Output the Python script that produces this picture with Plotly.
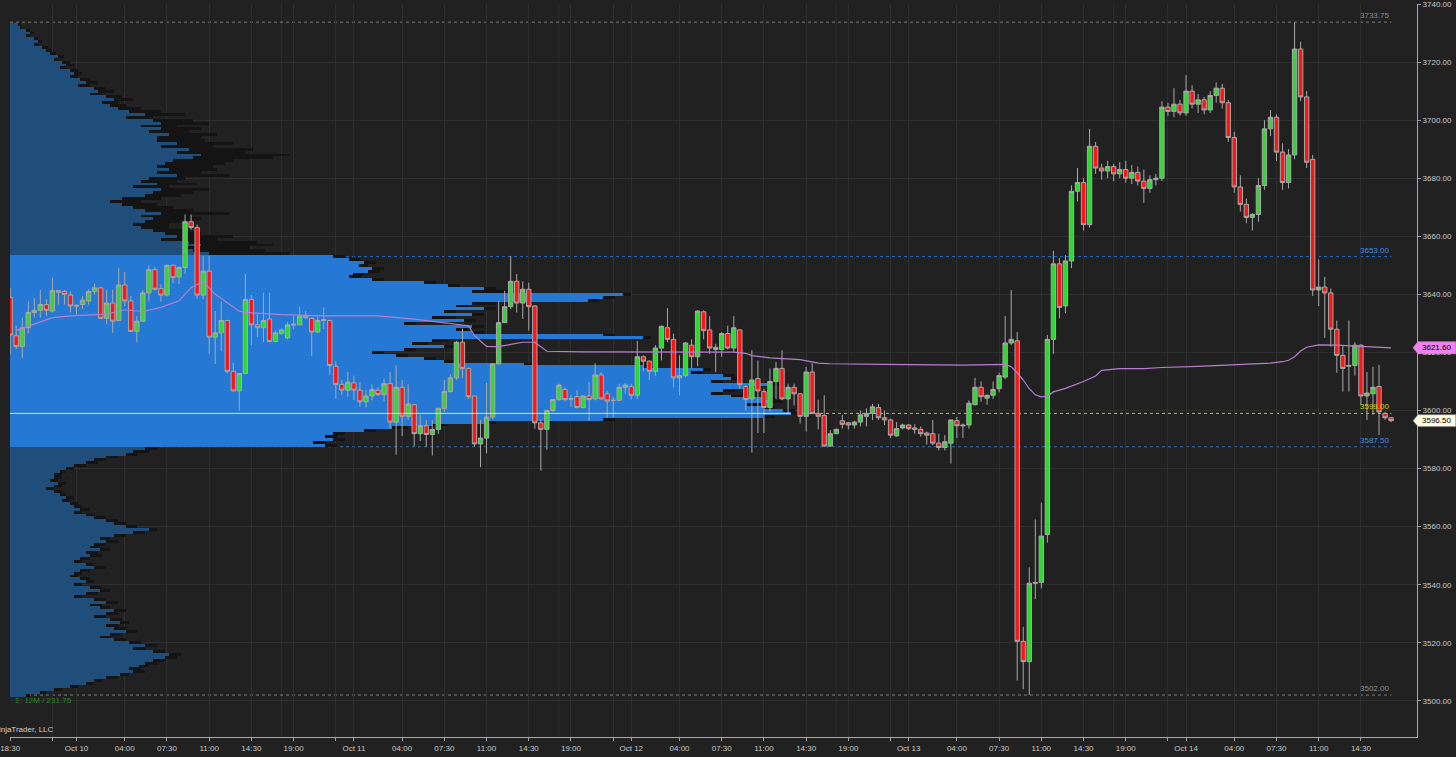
import pandas as pd
import plotly.graph_objects as go

# ---------------- DATA ----------------
# 30-minute ES bars (close times), Oct 9 18:30 -> Oct 14 17:00 (ET), session break 17:00-18:00
bar_times = pd.date_range("2022-10-09 18:30", "2022-10-14 17:00", freq="30min")
bar_times = bar_times[~bar_times.strftime("%H:%M").isin(["17:30", "18:00"])]

open_ = [
    3639.0, 3625.75, 3622.0, 3628.5, 3633.75, 3634.5, 3636.5, 3634.25, 3641.25, 3641.0,
    3639.75, 3636.25, 3636.5, 3637.75, 3641.0, 3642.25, 3631.75, 3637.0, 3631.0, 3643.25,
    3637.75, 3627.25, 3630.75, 3640.5, 3648.5, 3642.0, 3639.75, 3650.0, 3646.0, 3649.25,
    3665.0, 3663.0, 3639.75, 3648.0, 3625.25, 3626.75, 3631.0, 3613.5, 3606.75, 3612.75,
    3638.25, 3629.5, 3628.5, 3631.5, 3623.75, 3626.5, 3625.0, 3629.75, 3629.5, 3632.5,
    3631.75, 3627.0, 3631.0, 3631.0, 3615.25, 3609.0, 3607.0, 3609.5, 3607.0, 3603.0,
    3605.0, 3607.0, 3605.5, 3609.25, 3596.0, 3608.0, 3598.0, 3602.0, 3592.0, 3594.75,
    3591.75, 3593.5, 3600.75, 3606.5, 3611.25, 3623.5, 3614.5, 3605.0, 3588.5, 3590.5,
    3597.75, 3616.0, 3630.25, 3635.75, 3644.5, 3637.0, 3641.75, 3636.0, 3595.75, 3593.5,
    3600.0, 3603.75, 3607.25, 3604.0, 3604.75, 3601.0, 3605.0, 3604.0, 3612.25, 3605.75,
    3603.5, 3603.5, 3608.0, 3608.25, 3605.25, 3618.5, 3617.0, 3613.5, 3621.5, 3628.5,
    3624.5, 3611.25, 3612.0, 3622.5, 3618.5, 3634.0, 3627.75, 3621.75, 3621.0, 3626.5,
    3621.5, 3627.75, 3608.25, 3604.0, 3611.0, 3606.5, 3601.0, 3610.0, 3614.5, 3604.0,
    3608.0, 3605.75, 3598.0, 3613.25, 3599.0, 3598.25, 3587.75, 3592.0, 3596.5, 3595.75,
    3595.0, 3596.0, 3598.0, 3599.0, 3601.0, 3597.5, 3596.75, 3591.25, 3594.0, 3595.0,
    3594.0, 3593.5, 3592.25, 3592.0, 3588.75, 3587.25, 3588.75, 3596.5, 3595.0, 3595.0,
    3602.0, 3608.0, 3604.25, 3605.25, 3607.5, 3611.5, 3623.25, 3624.0, 3520.5, 3513.5,
    3540.5, 3540.75, 3557.25, 3624.5, 3650.5, 3636.0, 3651.5, 3675.5, 3678.5, 3664.0,
    3691.0, 3683.5, 3682.5, 3684.0, 3681.5, 3683.0, 3680.0, 3682.0, 3679.0, 3676.5,
    3679.5, 3680.0, 3704.5, 3703.0, 3705.5, 3702.5, 3710.0, 3705.5, 3707.0, 3703.5,
    3708.5, 3711.0, 3706.0, 3694.0, 3677.0, 3671.0, 3666.5, 3667.5, 3677.5, 3697.0,
    3701.0, 3689.0, 3678.5, 3688.0, 3724.5, 3708.0, 3686.5, 3641.5, 3642.5, 3640.5,
    3628.0, 3619.0, 3615.25, 3615.5, 3622.5, 3605.0, 3605.75, 3608.25, 3599.0, 3597.5,
]
high = [
    3642.25, 3629.25, 3632.0, 3637.5, 3638.75, 3641.5, 3638.25, 3645.75, 3641.5, 3641.5,
    3641.0, 3636.5, 3639.5, 3641.75, 3643.75, 3642.5, 3641.5, 3641.5, 3649.0, 3647.75,
    3639.5, 3632.5, 3641.5, 3650.0, 3649.5, 3643.5, 3650.25, 3650.25, 3649.75, 3667.5,
    3667.5, 3664.0, 3653.25, 3653.25, 3634.25, 3637.5, 3631.25, 3616.5, 3612.75, 3647.0,
    3639.75, 3633.25, 3640.5, 3640.5, 3627.5, 3628.25, 3630.5, 3632.5, 3635.75, 3634.25,
    3632.0, 3632.25, 3635.5, 3631.25, 3617.0, 3610.5, 3613.25, 3612.0, 3609.75, 3607.0,
    3609.0, 3608.0, 3611.0, 3613.25, 3615.5, 3610.5, 3609.0, 3602.25, 3598.5, 3596.75,
    3596.75, 3600.75, 3610.5, 3612.5, 3624.0, 3628.25, 3614.5, 3605.0, 3596.75, 3609.5,
    3616.25, 3637.75, 3641.25, 3653.25, 3647.0, 3644.5, 3644.0, 3636.25, 3596.75, 3600.25,
    3604.0, 3609.25, 3608.0, 3605.25, 3607.0, 3605.25, 3609.75, 3616.25, 3613.25, 3606.75,
    3604.75, 3609.25, 3609.5, 3609.25, 3624.0, 3619.0, 3617.25, 3622.5, 3629.25, 3635.25,
    3626.5, 3619.0, 3623.5, 3624.5, 3634.5, 3634.5, 3632.5, 3623.0, 3627.0, 3629.25,
    3632.5, 3628.0, 3608.75, 3620.75, 3617.25, 3607.5, 3614.5, 3616.75, 3620.75, 3609.25,
    3609.25, 3606.0, 3615.0, 3616.25, 3603.75, 3605.25, 3593.25, 3593.75, 3598.5, 3596.0,
    3596.5, 3600.0, 3600.75, 3602.25, 3602.25, 3600.0, 3597.25, 3596.0, 3595.5, 3595.25,
    3595.25, 3594.5, 3592.75, 3596.75, 3592.0, 3591.5, 3596.75, 3597.75, 3595.5, 3603.5,
    3611.25, 3610.0, 3605.5, 3610.0, 3613.0, 3632.5, 3641.5, 3627.0, 3525.5, 3546.0,
    3562.5, 3568.25, 3626.0, 3655.0, 3652.5, 3653.5, 3677.5, 3683.5, 3680.0, 3697.0,
    3692.5, 3685.0, 3686.0, 3685.0, 3685.5, 3686.0, 3684.5, 3684.0, 3683.0, 3681.0,
    3681.5, 3706.5, 3706.0, 3711.0, 3707.0, 3715.5, 3712.0, 3709.0, 3708.0, 3710.0,
    3713.0, 3712.5, 3707.0, 3696.0, 3681.0, 3673.0, 3668.0, 3680.0, 3700.0, 3703.5,
    3702.0, 3692.0, 3690.0, 3733.75, 3727.0, 3710.0, 3688.0, 3652.0, 3646.0, 3642.0,
    3631.0, 3622.5, 3631.0, 3623.5, 3622.75, 3613.25, 3615.0, 3615.75, 3599.5, 3597.75,
]
low = [
    3619.25, 3621.25, 3618.0, 3626.5, 3632.0, 3632.0, 3632.5, 3633.75, 3636.5, 3636.5,
    3633.75, 3633.0, 3635.0, 3636.5, 3640.0, 3631.5, 3629.75, 3626.75, 3630.75, 3636.0,
    3627.0, 3623.5, 3630.5, 3637.5, 3641.25, 3637.5, 3639.25, 3643.75, 3643.5, 3647.0,
    3662.25, 3638.5, 3638.25, 3619.5, 3616.0, 3620.5, 3612.75, 3606.5, 3600.0, 3612.5,
    3622.5, 3625.25, 3623.5, 3623.5, 3623.5, 3626.0, 3624.5, 3628.0, 3629.5, 3631.5,
    3618.75, 3626.75, 3628.0, 3612.25, 3604.0, 3605.25, 3604.75, 3603.5, 3601.25, 3601.0,
    3603.5, 3605.0, 3603.25, 3593.75, 3584.75, 3591.25, 3596.75, 3587.75, 3589.5, 3587.5,
    3584.5, 3592.0, 3599.5, 3606.25, 3610.5, 3611.25, 3604.0, 3587.5, 3580.5, 3585.25,
    3597.0, 3616.0, 3630.25, 3635.0, 3633.75, 3631.5, 3627.5, 3593.75, 3579.25, 3586.5,
    3599.5, 3603.25, 3603.25, 3601.25, 3600.75, 3600.75, 3596.5, 3603.5, 3603.75, 3597.5,
    3597.75, 3603.25, 3605.75, 3603.75, 3604.0, 3613.5, 3610.5, 3612.0, 3617.25, 3623.5,
    3608.0, 3605.25, 3611.5, 3614.5, 3615.25, 3624.5, 3619.5, 3613.25, 3618.5, 3621.0,
    3620.0, 3607.5, 3600.0, 3585.5, 3592.25, 3592.25, 3599.5, 3604.0, 3603.5, 3598.75,
    3601.75, 3595.5, 3592.75, 3598.75, 3593.5, 3587.5, 3587.5, 3592.0, 3593.75, 3593.5,
    3593.75, 3594.5, 3594.5, 3596.75, 3596.75, 3595.0, 3590.5, 3591.0, 3593.5, 3593.25,
    3592.0, 3591.0, 3588.25, 3588.0, 3586.25, 3586.25, 3581.75, 3590.5, 3590.5, 3593.75,
    3601.75, 3603.0, 3602.0, 3604.0, 3606.25, 3610.75, 3622.5, 3507.0, 3504.0, 3502.0,
    3535.0, 3538.75, 3554.5, 3619.5, 3631.75, 3633.5, 3649.0, 3672.0, 3662.0, 3663.0,
    3681.5, 3679.5, 3680.0, 3679.0, 3680.0, 3678.5, 3678.0, 3677.5, 3671.5, 3675.0,
    3677.5, 3679.0, 3701.5, 3701.0, 3701.5, 3701.5, 3704.0, 3702.5, 3702.0, 3702.5,
    3706.0, 3704.0, 3692.5, 3675.0, 3668.5, 3664.5, 3662.0, 3665.0, 3676.0, 3694.5,
    3686.0, 3676.0, 3676.5, 3686.5, 3706.5, 3683.5, 3639.5, 3636.0, 3625.0, 3622.0,
    3613.0, 3606.5, 3606.5, 3612.0, 3601.75, 3596.75, 3598.5, 3591.5, 3596.75, 3596.0,
]
close = [
    3626.0, 3622.0, 3628.5, 3633.75, 3634.5, 3636.5, 3634.5, 3641.25, 3640.75, 3640.0,
    3636.0, 3636.0, 3638.0, 3641.0, 3642.25, 3631.75, 3637.0, 3630.75, 3643.25, 3637.75,
    3627.25, 3630.75, 3640.5, 3648.5, 3641.75, 3639.75, 3650.0, 3645.75, 3649.25, 3665.0,
    3663.0, 3639.75, 3648.0, 3625.25, 3626.75, 3631.0, 3613.5, 3606.75, 3612.75, 3638.25,
    3629.5, 3628.5, 3631.0, 3623.75, 3626.75, 3627.75, 3629.5, 3629.5, 3632.5, 3632.0,
    3627.0, 3631.0, 3631.25, 3615.5, 3609.0, 3607.0, 3609.75, 3607.0, 3603.0, 3605.0,
    3607.25, 3605.5, 3609.25, 3596.0, 3608.0, 3598.0, 3602.25, 3592.0, 3594.75, 3591.75,
    3593.5, 3600.75, 3606.5, 3611.25, 3623.5, 3614.5, 3604.75, 3588.5, 3590.5, 3597.75,
    3616.0, 3630.25, 3635.75, 3644.5, 3637.0, 3641.75, 3635.75, 3595.75, 3593.5, 3600.0,
    3603.75, 3608.75, 3603.75, 3604.0, 3601.0, 3605.0, 3603.75, 3612.25, 3604.0, 3603.25,
    3603.5, 3608.0, 3608.75, 3605.25, 3618.5, 3617.0, 3613.5, 3621.5, 3629.0, 3624.5,
    3611.25, 3612.0, 3623.25, 3618.5, 3634.25, 3627.5, 3621.5, 3621.0, 3626.5, 3621.5,
    3628.5, 3609.0, 3603.75, 3610.5, 3606.75, 3601.0, 3610.0, 3614.5, 3604.0, 3608.0,
    3605.75, 3598.0, 3613.25, 3599.0, 3598.0, 3587.75, 3592.0, 3593.5, 3595.25, 3595.0,
    3596.0, 3598.5, 3599.0, 3601.25, 3597.5, 3596.75, 3591.5, 3593.75, 3595.0, 3593.75,
    3593.5, 3592.0, 3591.5, 3588.75, 3587.25, 3589.25, 3596.75, 3594.75, 3594.75, 3602.5,
    3608.0, 3604.75, 3605.25, 3607.25, 3612.0, 3623.25, 3624.5, 3520.5, 3513.5, 3540.5,
    3540.75, 3556.75, 3624.5, 3650.5, 3635.5, 3651.5, 3675.5, 3678.5, 3664.0, 3691.0,
    3683.5, 3682.5, 3684.0, 3681.5, 3683.0, 3680.0, 3682.0, 3679.0, 3676.5, 3679.5,
    3680.0, 3704.5, 3703.0, 3705.5, 3702.5, 3710.0, 3705.5, 3707.0, 3703.5, 3708.5,
    3711.0, 3706.0, 3694.0, 3677.0, 3671.0, 3666.5, 3667.5, 3677.5, 3697.0, 3701.0,
    3689.0, 3678.5, 3688.0, 3724.5, 3708.0, 3685.5, 3641.5, 3642.5, 3640.5, 3628.0,
    3619.0, 3614.5, 3615.5, 3622.5, 3605.0, 3606.0, 3608.0, 3599.5, 3597.5, 3596.5,
]

# VWAP readings (bar number, value)
vwap_bars = [1, 4, 7, 10, 16, 19, 22, 25, 28, 30, 32, 34, 38, 39, 45, 52, 61, 67, 76, 77,
             79, 81, 85, 87, 89, 95, 105, 112, 120, 122, 123, 126, 131, 134, 136, 145, 153,
             158, 165, 166, 167, 168, 169, 170, 171, 172, 173, 175, 178, 180, 181, 184, 188,
             191, 197, 204, 209, 211, 212, 213, 214, 215, 216, 217, 220, 224, 229]
vwap_vals = [3627.5, 3629.8, 3632.0, 3632.6, 3633.2, 3634.7, 3634.1, 3635.5, 3637.8, 3642.3,
             3644.4, 3640.0, 3634.2, 3633.8, 3633.0, 3632.6, 3632.6, 3631.5, 3629.2, 3625.8,
             3622.1, 3622.0, 3623.5, 3623.5, 3620.4, 3620.2, 3620.1, 3620.1, 3620.1, 3619.7,
             3618.9, 3618.1, 3617.5, 3616.3, 3616.1, 3615.9, 3615.7, 3615.6, 3615.9, 3615.1,
             3613.0, 3610.5, 3607.5, 3605.4, 3604.7, 3604.9, 3606.4, 3607.6, 3610.0, 3611.9,
             3613.8, 3614.4, 3614.4, 3614.8, 3615.2, 3615.7, 3616.3, 3616.8, 3617.3, 3618.5,
             3620.5, 3621.8, 3622.3, 3622.6, 3622.5, 3622.0, 3621.6]

# Volume profile, 1-point levels from 3733 down to 3502 (thousands of contracts)
profile_prices = list(range(3733, 3501, -1))
profile_volume_k = [
    2, 2.5, 4, 5, 4, 6, 7, 6, 8, 9,
    10, 12, 11, 13, 14, 12.5, 15, 16, 15, 17.5,
    19, 17, 21, 22, 20, 24, 26, 23, 25, 27,
    30, 34, 29, 36, 38, 33, 38, 35, 40, 37,
    37, 42, 38, 45, 42, 48, 46, 41, 39, 37,
    40, 37, 42, 35, 33, 37, 31, 38, 36, 34,
    28, 25, 28, 31, 34, 38, 33, 36, 34, 31,
    33, 36, 39, 42, 38, 45, 48, 44, 46, 50,
    81, 85, 89, 87.5, 91, 90, 86, 85, 91, 104,
    110, 119, 116, 154, 149, 145, 116, 112, 119, 109,
    116, 106, 114, 99, 116, 112, 116, 149, 159, 106,
    101, 109, 99, 91, 97, 104, 109, 129, 159, 174,
    171, 179, 181, 176, 191, 184, 179, 176, 181, 189,
    191, 185, 189, 194, 196, 189, 149, 119, 106, 96,
    89, 81, 79, 81, 76, 79,
    34, 31, 29, 24, 21, 19, 16, 14, 12.5, 11,
    11, 10, 12, 11, 9, 11, 12.5, 14, 13, 15,
    16, 17.5, 16, 19, 21, 24, 26, 29, 35, 31,
    26, 22.5, 24, 21, 20, 22.5, 19, 20, 17.5, 16,
    19, 21, 17.5, 16, 15, 17.5, 19, 16, 20, 22.5,
    19, 16, 21, 24, 20, 22.5, 26, 24, 21, 25,
    27.5, 24, 26, 29, 25, 22.5, 26, 30, 34, 31,
    36, 40, 39, 36, 34, 32.5, 30, 31, 27.5, 24,
    21, 19, 15, 11, 7.5, 4,
]
profile_total_k = [
    2.5, 3, 5, 6, 5, 7, 8, 7, 9.5, 10.5,
    11.5, 13.5, 12, 15, 16, 14, 17, 18, 17, 20,
    22, 20, 24, 26, 23, 28, 31, 27, 29, 33,
    38, 44, 36, 46, 50, 42, 48, 45, 52, 48,
    49, 56, 51, 61, 59, 70, 66, 56, 54, 51,
    52, 48, 55, 44, 42, 47, 40, 50, 46, 43,
    38, 33, 37, 41, 46, 55, 45, 48, 43, 40,
    40, 44, 48, 56, 52, 62, 66, 60, 64, 70,
    84, 88, 92, 90, 94, 93, 89, 88, 94, 107,
    113, 122, 125, 156, 152, 148, 122, 115, 122, 112,
    119, 112, 117, 102, 119, 115, 119, 152, 161, 110,
    105, 112, 102, 94, 100, 107, 112, 132, 162, 176,
    174, 182, 184, 179, 194, 187, 182, 179, 184, 192,
    194, 188, 192, 197, 199, 192, 152, 122, 110, 100,
    92, 84, 82, 84, 79, 82,
    37, 35, 32, 27, 24, 22, 19, 16, 14, 13,
    13, 12, 14, 13, 11, 13, 14, 16, 15, 17,
    18, 20, 18, 21, 24, 27, 29, 32, 37, 34,
    29, 25, 27, 24, 22, 25, 22, 23, 20, 18,
    21, 24, 20, 18, 17, 20, 21, 18, 23, 25,
    22, 18, 24, 27, 23, 25, 29, 27, 24, 28,
    30, 27, 29, 32, 28, 25, 29, 33, 37, 34,
    39, 43, 42, 39, 37, 35, 33, 34, 30, 27,
    23, 21, 17, 13, 9, 5,
]

# Key levels
session_high = 3733.75
vah = 3653.00
poc = 3599.00
val = 3587.50
session_low = 3502.00
vwap_last = 3621.60
last_price = 3596.50

# Axis ticks
tick_times = [
    "2022-10-09 18:30", "2022-10-09 22:00",
    "2022-10-10 00:00", "2022-10-10 04:00", "2022-10-10 07:30", "2022-10-10 11:00",
    "2022-10-10 14:30", "2022-10-10 19:00", "2022-10-10 22:30",
    "2022-10-11 00:00", "2022-10-11 04:00", "2022-10-11 07:30", "2022-10-11 11:00",
    "2022-10-11 14:30", "2022-10-11 19:00", "2022-10-11 22:30",
    "2022-10-12 00:00", "2022-10-12 04:00", "2022-10-12 07:30", "2022-10-12 11:00",
    "2022-10-12 14:30", "2022-10-12 19:00", "2022-10-12 22:30",
    "2022-10-13 00:00", "2022-10-13 04:00", "2022-10-13 07:30", "2022-10-13 11:00",
    "2022-10-13 14:30", "2022-10-13 19:00", "2022-10-13 22:30",
    "2022-10-14 00:00", "2022-10-14 04:00", "2022-10-14 07:30", "2022-10-14 11:00",
    "2022-10-14 14:30",
]
tick_labels = [
    "18:30", "",
    "Oct 10", "04:00", "07:30", "11:00", "14:30", "19:00", "",
    "Oct 11", "04:00", "07:30", "11:00", "14:30", "19:00", "",
    "Oct 12", "04:00", "07:30", "11:00", "14:30", "19:00", "",
    "Oct 13", "04:00", "07:30", "11:00", "14:30", "19:00", "",
    "Oct 14", "04:00", "07:30", "11:00", "14:30",
]
price_ticks = [3500, 3520, 3540, 3560, 3580, 3600, 3620, 3640, 3660, 3680, 3700, 3720, 3740]

# ---------------- FIGURE ----------------
BG = "#212121"
GRID = "#2e2e2e"
FONT = "Liberation Sans, Arial, sans-serif"
TXT = "#c9c9c9"
FS = 8

pos = {t: i for i, t in enumerate(bar_times)}
bar_idx = list(range(len(bar_times)))
tickvals = [pos[pd.Timestamp(t)] for t in tick_times]
session_ends = [i for i, t in enumerate(bar_times)
                if t.strftime("%H:%M") == "17:00" and i < len(bar_times) - 1]

x_lo, x_hi = -0.03, 233.3
line_end = bar_idx[-1] + 0.05
y_lo, y_hi = 3487.55, 3740.0

prof_colors = ["#2579d4" if val <= p <= vah else "#1f4e7b" for p in profile_prices]

fig = go.Figure()

# volume profile (own hidden x axis, starting at the left edge)
fig.add_trace(go.Bar(y=profile_prices, x=profile_total_k, orientation="h", width=1,
                     marker=dict(color="#141414", line=dict(width=0)),
                     xaxis="x", yaxis="y", hoverinfo="skip", showlegend=False))
fig.add_trace(go.Bar(y=profile_prices, x=profile_volume_k, orientation="h", width=1,
                     marker=dict(color=prof_colors, line=dict(width=0)),
                     xaxis="x", yaxis="y", hoverinfo="skip", showlegend=False))

# candles
fig.add_trace(go.Candlestick(
    x=bar_idx, open=open_, high=high, low=low, close=close,
    xaxis="x2", yaxis="y", whiskerwidth=0,
    increasing=dict(line=dict(color="#a9a9a9", width=1), fillcolor="#2fd92f"),
    decreasing=dict(line=dict(color="#a9a9a9", width=1), fillcolor="#ff1414"),
    hoverinfo="skip", showlegend=False))

# VWAP
fig.add_trace(go.Scatter(x=vwap_bars, y=vwap_vals, mode="lines", xaxis="x2", yaxis="y",
                         line=dict(color="#b77fcc", width=1.2), hoverinfo="skip",
                         showlegend=False))

shapes = []
for s in session_ends:
    shapes.append(dict(type="line", xref="x2", yref="paper", x0=s, x1=s, y0=0, y1=1,
                       line=dict(color=GRID, width=1), layer="below"))

levels = [
    (session_high, "#7c7c7c", "#8e8e8e"),
    (vah, "#2a6fc0", "#3d8fe3"),
    (poc, "#c8c800", "#d8d800"),
    (val, "#2a6fc0", "#3d8fe3"),
    (session_low, "#7c7c7c", "#8e8e8e"),
]
annotations = []
for lvl, lc, tc in levels:
    shapes.append(dict(type="line", xref="x2", yref="y", x0=x_lo, x1=line_end, y0=lvl, y1=lvl,
                       line=dict(color=lc, width=1, dash="dot"), layer="below"))
    annotations.append(dict(xref="x2", yref="y", x=line_end, y=lvl, text=f"{lvl:.2f}",
                            showarrow=False, xanchor="right", yanchor="bottom",
                            font=dict(family=FONT, size=FS, color=tc)))

# POC solid highlight across the profile
shapes.append(dict(type="line", xref="x", yref="y", x0=0,
                   x1=profile_volume_k[profile_prices.index(int(poc))], y0=poc, y1=poc,
                   line=dict(color="#dfe89a", width=1), layer="above"))

# right-axis value flags
def flag(price, fill, border):
    h = 2.05
    path = (f"M 0.9972,{price} L 1.0007,{price + h} L 1.0276,{price + h} "
            f"L 1.0276,{price - h} L 1.0007,{price - h} Z")
    shapes.append(dict(type="path", xref="paper", yref="y", path=path, fillcolor=fill,
                       line=dict(color=border, width=0.6), layer="above"))
    annotations.append(dict(xref="paper", yref="y", x=1.0022, y=price, text=f"{price:.2f}",
                            showarrow=False, xanchor="left", yanchor="middle",
                            font=dict(family=FONT, size=FS, color="#000000")))

flag(vwap_last, "#ee82ee", "#ee82ee")
flag(last_price, "#fffbe3", "#8a8a8a")

annotations.append(dict(xref="paper", yref="y", x=0.0022, y=3500.0, text="Σ: 12M / 231.75",
                        showarrow=False, xanchor="left", yanchor="middle",
                        font=dict(family=FONT, size=FS, color="#1f8a1f")))
annotations.append(dict(xref="paper", yref="y", x=0.0325, y=3490.3,
                        text="© 2022 NinjaTrader, LLC", showarrow=False,
                        xanchor="right", yanchor="middle",
                        font=dict(family=FONT, size=FS, color="#d0d0d0")))

fig.update_layout(
    width=1456, height=757,
    margin=dict(l=4, r=39, t=0, b=20),
    paper_bgcolor=BG, plot_bgcolor=BG,
    barmode="overlay", bargap=0,
    boxgap=0.15, boxgroupgap=0.15,
    hovermode=False, showlegend=False,
    font=dict(family=FONT, size=FS, color=TXT),
    xaxis=dict(domain=[0, 1], range=[0, 353.25], visible=False, fixedrange=True),
    xaxis2=dict(overlaying="x", anchor="y", side="bottom", range=[x_lo, x_hi],
                tickmode="array", tickvals=tickvals, ticktext=tick_labels,
                showgrid=True, gridcolor=GRID, gridwidth=1, zeroline=False,
                ticks="outside", ticklen=3, tickcolor="#a0a0a0",
                showline=True, linecolor="#a8a8a8", linewidth=1,
                ticklabeloverflow="allow",
                tickfont=dict(family=FONT, size=FS, color=TXT),
                rangeslider=dict(visible=False)),
    yaxis=dict(side="right", range=[y_lo, y_hi], tickmode="array", tickvals=price_ticks,
               tickformat=".2f", showgrid=True, gridcolor=GRID, gridwidth=1, zeroline=False,
               ticks="outside", ticklen=3, tickcolor="#a0a0a0",
               showline=True, linecolor="#a8a8a8", linewidth=1,
               ticklabeloverflow="allow",
               tickfont=dict(family=FONT, size=FS, color=TXT)),
    shapes=shapes, annotations=annotations,
)

fig.write_html("out.html",
               config={"displayModeBar": False, "staticPlot": True},
               post_script="document.body.style.margin='0';document.body.style.background='#212121';")
